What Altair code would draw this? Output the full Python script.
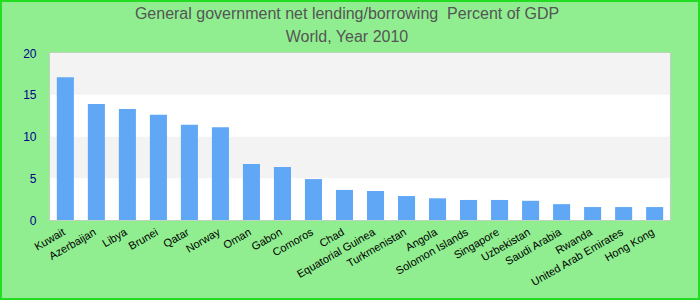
import altair as alt
import pandas as pd

countries = ["Kuwait", "Azerbaijan", "Libya", "Brunei", "Qatar", "Norway", "Oman", "Gabon",
             "Comoros", "Chad", "Equatorial Guinea", "Turkmenistan", "Angola", "Solomon Islands",
             "Singapore", "Uzbekistan", "Saudi Arabia", "Rwanda", "United Arab Emirates", "Hong Kong"]
values = [17.1, 13.9, 13.3, 12.6, 11.4, 11.1, 6.7, 6.35, 4.9, 3.6,
          3.47, 2.87, 2.6, 2.4, 2.4, 2.3, 1.9, 1.55, 1.55, 1.55]

band_lo = [0, 5, 10, 15]
band_hi = [5, 10, 15, 20]
band_fill = ["#ffffff", "#f3f3f3", "#ffffff", "#f3f3f3"]

title_lines = ["General government net lending/borrowing\u00a0 Percent of GDP", "World, Year 2010"]

df = pd.DataFrame({"country": countries, "value": values})
bands = pd.DataFrame({"lo": band_lo, "hi": band_hi, "fill": band_fill})

W, H = 620, 167
PL, PT, PR, PB = 50, 53, 30, 80

yscale = alt.Scale(domain=[0, 20], nice=False)

band_layer = alt.Chart(bands).mark_rect().encode(
    y=alt.Y("lo:Q", scale=yscale),
    y2="hi:Q",
    color=alt.Color("fill:N", scale=None),
)

bars = alt.Chart(df).mark_bar(color="#60a8f5").encode(
    x=alt.X("country:N", sort=countries,
            scale=alt.Scale(paddingInner=0.45, paddingOuter=0.22),
            axis=alt.Axis(title=None, labelAngle=-30, labelFontSize=11, labelColor="#000000",
                          labelFont="Liberation Sans", ticks=False, domain=False,
                          labelPadding=6, labelOffset=-4, labelOverlap=False, labelLimit=200)),
    y=alt.Y("value:Q", scale=yscale,
            axis=alt.Axis(title=None, values=[0, 5, 10, 15, 20], grid=False, ticks=False,
                          domain=False, labelFontSize=12, labelColor="#00008b",
                          labelFont="Liberation Sans", labelPadding=14)),
)

border = alt.Chart(pd.DataFrame({"a": [0]})).mark_rect(
    fill=None, stroke="#22dd22", strokeWidth=2, clip=False
).encode(
    x=alt.value(-PL + 1), x2=alt.value(W + PR - 1),
    y=alt.value(-PT + 1), y2=alt.value(H + PB - 1),
)

t1 = alt.Chart(pd.DataFrame({"t": [title_lines[0]]})).mark_text(
    font="Liberation Sans", fontSize=16, color="#555555", align="center", baseline="alphabetic"
).encode(text="t:N", x=alt.value(297), y=alt.value(19 - PT))

t2 = alt.Chart(pd.DataFrame({"t": [title_lines[1]]})).mark_text(
    font="Liberation Sans", fontSize=16, color="#555555", align="center", baseline="alphabetic"
).encode(text="t:N", x=alt.value(297), y=alt.value(42 - PT))

chart = alt.layer(band_layer, bars, border, t1, t2).properties(
    width=W, height=H,
    padding={"left": PL, "top": PT, "right": PR, "bottom": PB},
    autosize=alt.AutoSizeParams(type="none"),
    background="#90ee90",
).configure_view(stroke="#cccccc", strokeWidth=1.5, fill="#ffffff")

chart.save("out.html", embed_options={"renderer": "svg", "actions": False})
